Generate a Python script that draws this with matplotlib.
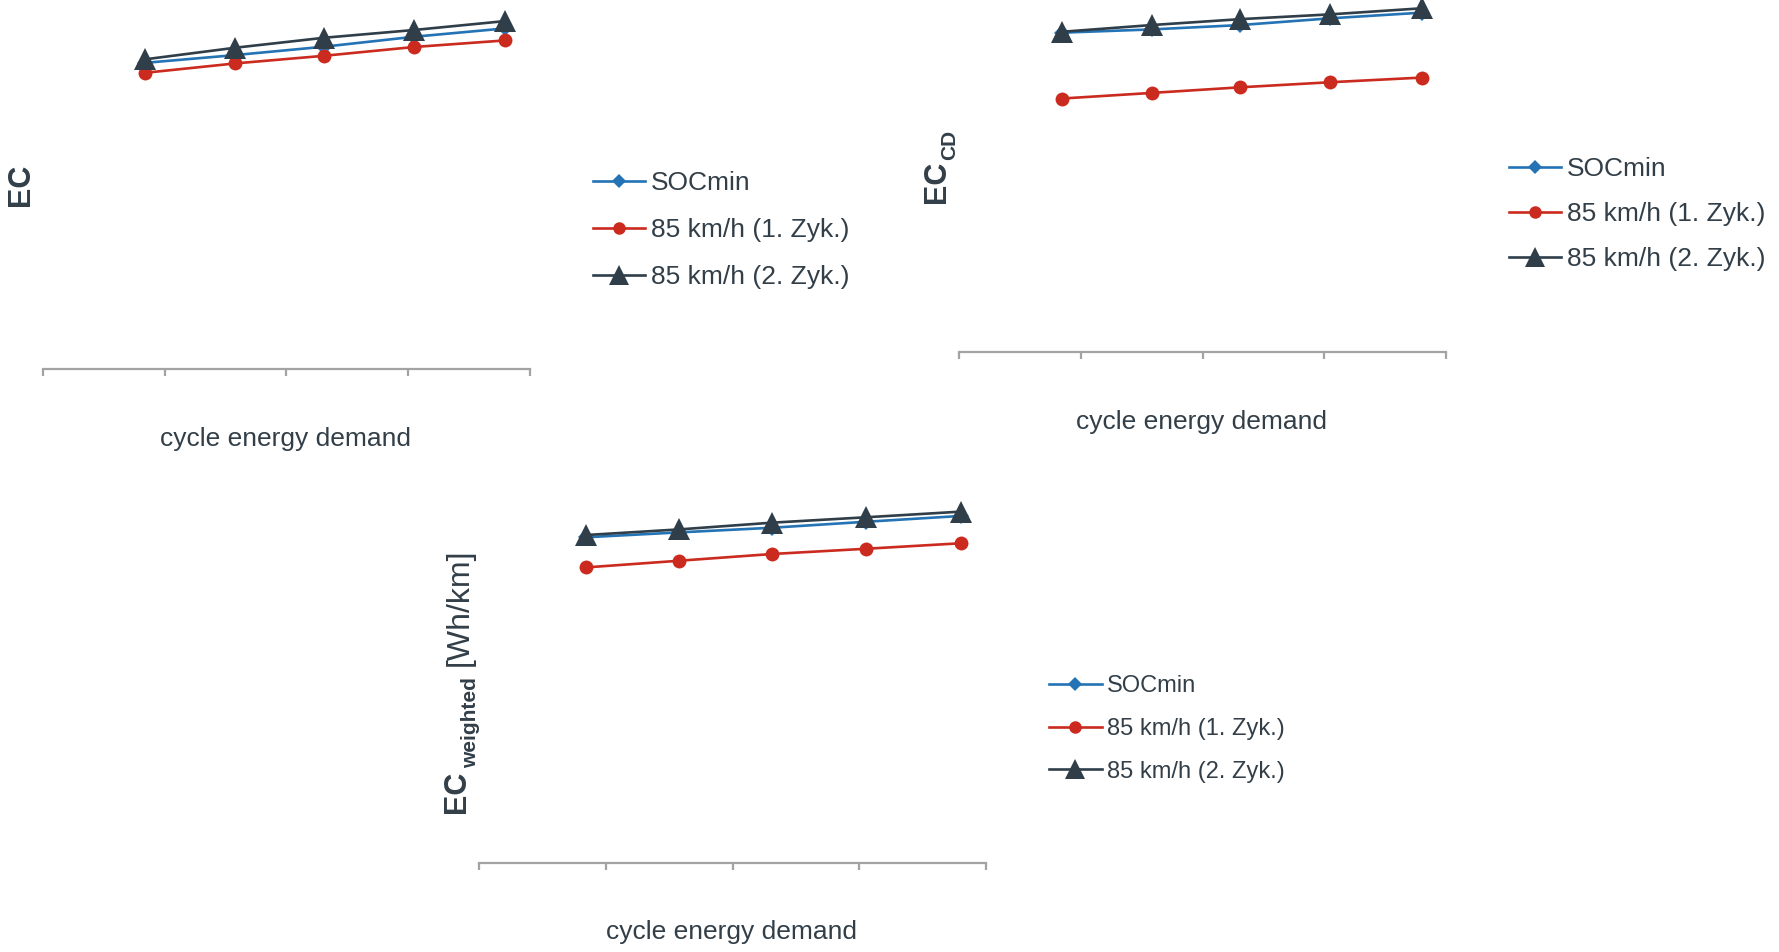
import matplotlib
matplotlib.use("Agg")
import matplotlib.pyplot as plt

plt.rcParams['font.family'] = ['Liberation Sans', 'DejaVu Sans']

W, H = 1779, 952

# x positions along the (unlabelled) cycle energy demand axis, tick units 0..4
cycle_demand = [0.84, 1.58, 2.31, 3.05, 3.80]
series_names = ['SOCmin', '85 km/h (1. Zyk.)', '85 km/h (2. Zyk.)']

# EC
ec_socmin = [208.5, 213.8, 219.5, 226.3, 232.0]
ec_85_1 = [201.7, 208.1, 213.3, 219.3, 223.8]
ec_85_2 = [210.9, 218.8, 225.6, 230.9, 237.0]

# EC_CD
eccd_socmin = [226.8, 229.1, 232.2, 237.0, 241.0]
eccd_85_1 = [180.0, 184.0, 188.0, 191.6, 194.9]
eccd_85_2 = [227.4, 232.2, 236.4, 239.8, 244.1]

# EC_weighted
ecw_socmin = [218.3, 221.6, 224.7, 228.7, 232.6]
ecw_85_1 = [198.1, 202.6, 207.1, 210.6, 214.3]
ecw_85_2 = [219.8, 223.6, 228.1, 231.7, 235.5]

BLUE = '#2373B5'
RED = '#CB2A1F'
DARK = '#2F3E49'
TEXT = '#333F48'
GRAY = '#A3A3A3'


def px_rect(left, top, right, bottom):
    return [left / W, 1 - bottom / H, (right - left) / W, (bottom - top) / H]


def ftext(x, y, s, **kw):
    fig.text(x / W, 1 - y / H, s, color=TEXT, **kw)


def draw_panel(rect, values, legend_at, legend_size, label_spacing, handle_len):
    ax = fig.add_axes(px_rect(*rect))
    styles = [dict(color=BLUE, marker='D', markersize=8),
              dict(color=RED, marker='o', markersize=10),
              dict(color=DARK, marker='^', markersize=15.5)]
    for name, vals, st in zip(series_names, values, styles):
        ax.plot(cycle_demand, vals, lw=1.9, markeredgewidth=0,
                label=name, clip_on=False, **st)
    ax.set_xlim(0, 4)
    ax.set_ylim(0, 250)
    ax.set_xticks([0, 1, 2, 3, 4])
    ax.set_xticklabels([])
    ax.set_yticks([])
    for s in ['top', 'left', 'right']:
        ax.spines[s].set_visible(False)
    ax.spines['bottom'].set_color(GRAY)
    ax.spines['bottom'].set_linewidth(1.6)
    ax.tick_params(axis='x', direction='out', length=5, width=1.6, color=GRAY)
    ax.patch.set_visible(False)
    leg = ax.legend(loc='center left', frameon=False, fontsize=legend_size,
                    bbox_to_anchor=(legend_at[0] / W, 1 - legend_at[1] / H),
                    bbox_transform=fig.transFigure, borderpad=0, borderaxespad=0,
                    handlelength=handle_len, handletextpad=0.22,
                    labelspacing=label_spacing, markerscale=0.9)
    for t in leg.get_texts():
        t.set_color(TEXT)
    return ax


fig = plt.figure(figsize=(W / 100, H / 100), dpi=100)

draw_panel((42.9, 2, 529.6, 368.5), [ec_socmin, ec_85_1, ec_85_2],
           (593, 230), 19, 0.87, 1.97)
draw_panel((959.3, 0, 1446, 352), [eccd_socmin, eccd_85_1, eccd_85_2],
           (1509, 214), 19, 0.8, 1.97)
draw_panel((479.3, 490, 986, 863), [ecw_socmin, ecw_85_1, ecw_85_2],
           (1049, 729), 17, 0.87, 2.24)

# x axis titles
ftext(286, 439, 'cycle energy demand', fontsize=19, ha='center', va='center')
ftext(1202, 422, 'cycle energy demand', fontsize=19, ha='center', va='center')
ftext(732, 932, 'cycle energy demand', fontsize=19, ha='center', va='center')

# y axis titles
ftext(21.4, 185, 'EC', fontsize=22, fontweight='bold', rotation=90,
      ha='center', va='center')
ftext(937, 181.5, 'EC', fontsize=22, fontweight='bold', rotation=90,
      ha='center', va='center')
ftext(950, 145, 'CD', fontsize=15, fontweight='bold', rotation=90,
      ha='center', va='center')
ftext(457, 792, 'EC', fontsize=22, fontweight='bold', rotation=90,
      ha='center', va='center')
ftext(471, 723, 'weighted', fontsize=15, fontweight='bold', rotation=90,
      ha='center', va='center')
ftext(460, 607, '[Wh/km]', fontsize=23, rotation=90,
      ha='center', va='center')

fig.savefig('out.png', dpi=100)
